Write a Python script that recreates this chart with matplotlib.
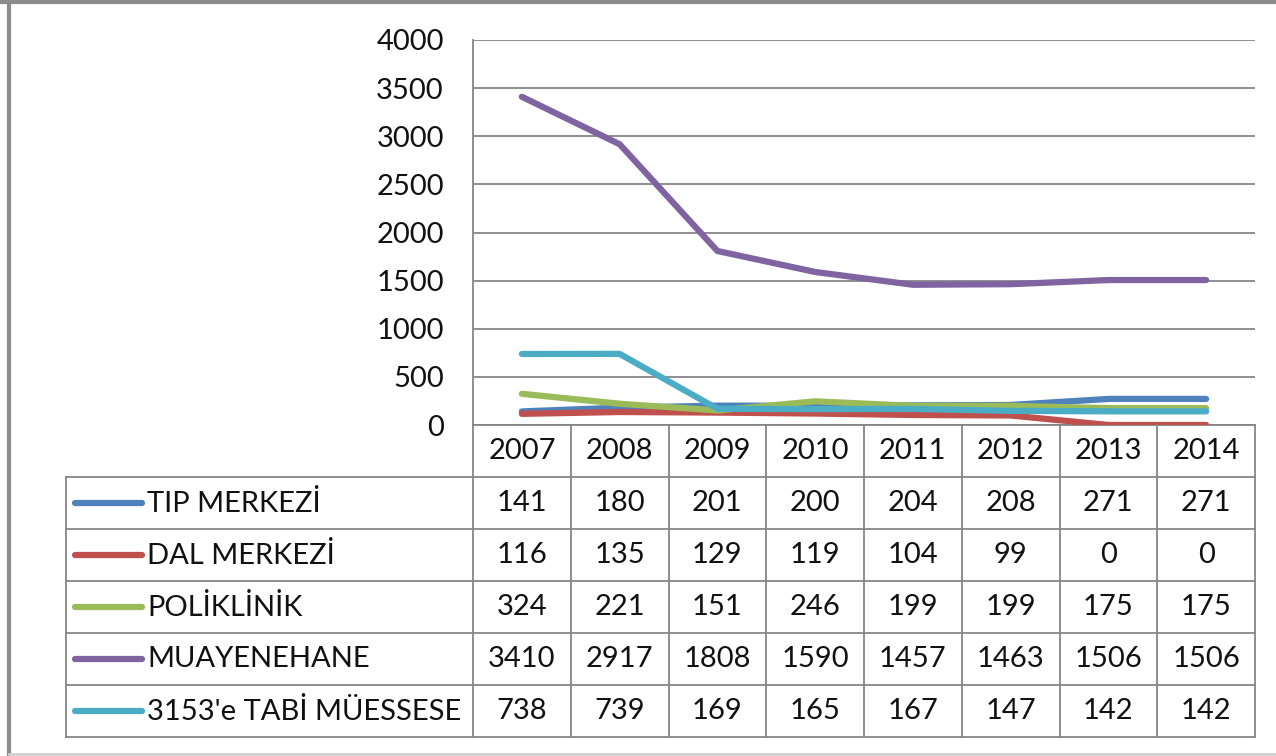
import numpy as np
import matplotlib.pyplot as plt
from matplotlib.lines import Line2D

plt.rcParams['font.family'] = ['Lato', 'DejaVu Sans']

years = ['2007', '2008', '2009', '2010', '2011', '2012', '2013', '2014']
names = ['TIP MERKEZİ', 'DAL MERKEZİ', 'POLİKLİNİK', 'MUAYENEHANE', "3153'e TABİ MÜESSESE"]
tip = [141, 180, 201, 200, 204, 208, 271, 271]
dal = [116, 135, 129, 119, 104, 99, 0, 0]
poli = [324, 221, 151, 246, 199, 199, 175, 175]
muay = [3410, 2917, 1808, 1590, 1457, 1463, 1506, 1506]
tabi = [738, 739, 169, 165, 167, 147, 142, 142]
series = [tip, dal, poli, muay, tabi]
colors = ['#4F81BD', '#C0504D', '#9BBB59', '#8064A2', '#4BACC6']

W, H = 1276, 756
fig = plt.figure(figsize=(W / 100, H / 100), dpi=100)
grid_c = '#868686'
fs = 21
txt_c = '#111111'

def px(x0, y0, x1, y1):
    return [x0 / W, 1 - y1 / H, (x1 - x0) / W, (y1 - y0) / H]

# line chart
ax = fig.add_axes(px(473, 40, 1255, 425))
x = np.arange(len(years))
for s, c in zip(series, colors):
    ax.plot(x, s, color=c, lw=4.5, solid_capstyle='round', solid_joinstyle='round', zorder=3)
ax.set_xlim(-0.5, len(years) - 0.5)
ax.set_ylim(0, 4000)
ax.set_yticks(np.arange(0, 4001, 500))
ax.yaxis.grid(True, color=grid_c, lw=1.3)
ax.set_axisbelow(True)
ax.set_xticks([])
ax.tick_params(axis='y', length=0, pad=21, labelsize=fs, labelcolor=txt_c)
for sp in ['top', 'right']:
    ax.spines[sp].set_visible(False)
for sp in ['left', 'bottom']:
    ax.spines[sp].set_color(grid_c)
    ax.spines[sp].set_linewidth(1.3)

# data table below
tab = fig.add_axes(px(66, 425, 1255, 737))
col_w = (1255 - 473) / len(years)
left = -0.5 - (473 - 66) / col_w
tab.set_xlim(left, len(years) - 0.5)
tab.set_ylim(0, 6)
tab.axis('off')
nrow = len(series)
for r in range(nrow + 1):
    tab.plot([left, len(years) - 0.5], [r, r], color=grid_c, lw=1.3, clip_on=False)
for k in range(len(years) + 1):
    tab.plot([k - 0.5, k - 0.5], [0, 6], color=grid_c, lw=1.3, clip_on=False)
tab.plot([left, left], [0, nrow], color=grid_c, lw=1.3, clip_on=False)

for k, yr in enumerate(years):
    tab.text(k, nrow + 0.5, yr, ha='center', va='center', fontsize=fs, color=txt_c)

key_x0 = left + (75 - 66) / col_w
key_x1 = left + (142 - 66) / col_w
lab_x = left + (147 - 66) / col_w
for i, (nm, s, c) in enumerate(zip(names, series, colors)):
    yc = nrow - i - 0.5
    tab.plot([key_x0, key_x1], [yc, yc], color=c, lw=4.5, solid_capstyle='round')
    tab.text(lab_x, yc, nm, ha='left', va='center', fontsize=fs, color=txt_c)
    for k, v in enumerate(s):
        tab.text(k, yc, str(v), ha='center', va='center', fontsize=fs, color=txt_c)

# outer frame
fig.add_artist(Line2D([8.5 / W, 8.5 / W], [0, 1], color='#8c8c8c', lw=3, transform=fig.transFigure))
fig.add_artist(Line2D([0, 1], [1 - 1.5 / H, 1 - 1.5 / H], color='#8c8c8c', lw=3, transform=fig.transFigure))
fig.add_artist(Line2D([8.5 / W, 1], [1 - 754 / H, 1 - 754 / H], color='#d0d0d0', lw=2, transform=fig.transFigure))

fig.savefig('out.png', dpi=100, facecolor='white')
